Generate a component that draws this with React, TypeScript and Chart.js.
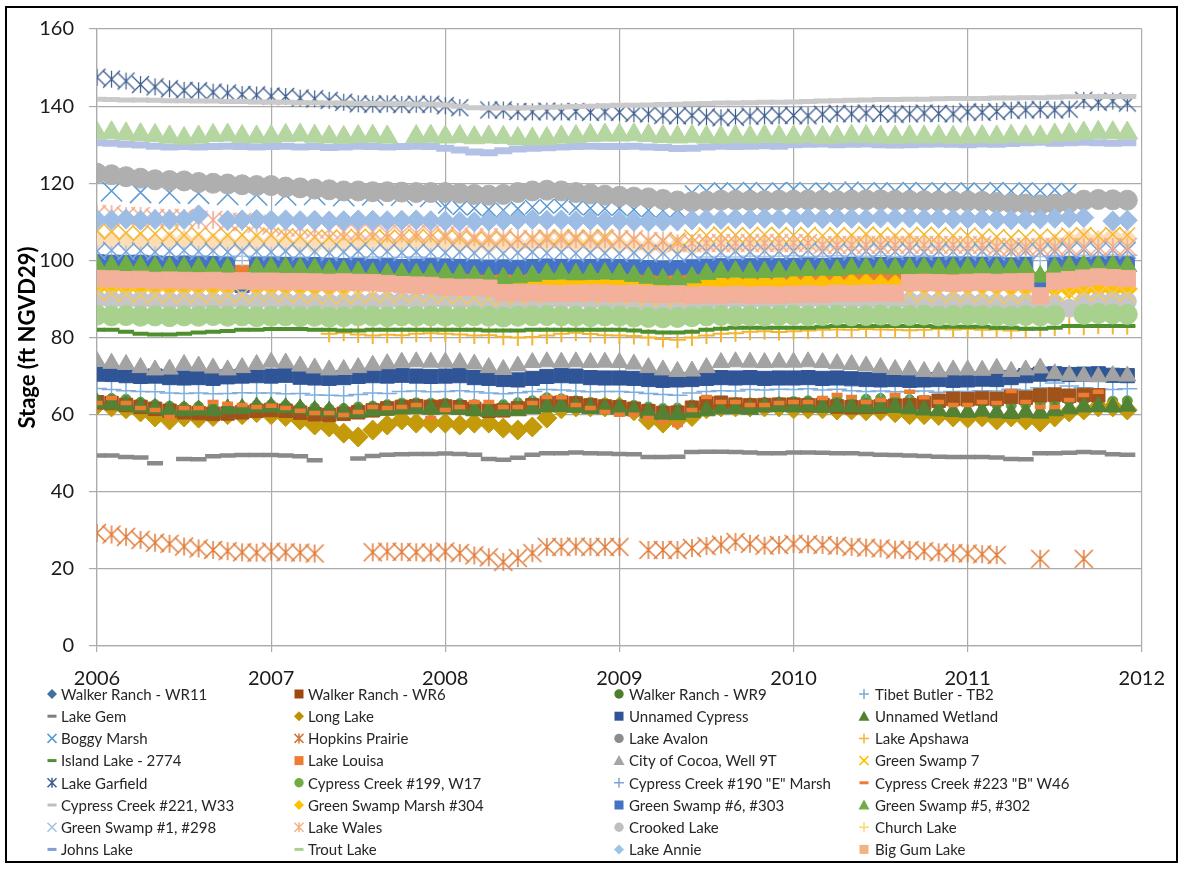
import React, { useEffect, useRef } from "react";
import { Chart, registerables } from "chart.js";

Chart.register(...registerables);

// ---------- axes ----------
const X_MIN = 2006;
const X_MAX = 2012;
const Y_MIN = 0;
const Y_MAX = 160;
const Y_STEP = 20;
const MONTHS_PER_YEAR = 12;
const Y_TITLE = "Stage (ft NGVD29)";

// ---------- series names (legend order, row-major, 4 columns) ----------
const SERIES_NAMES = [
  "Walker Ranch - WR11", "Walker Ranch - WR6", "Walker Ranch - WR9", "Tibet Butler - TB2",
  "Lake Gem", "Long Lake", "Unnamed Cypress", "Unnamed Wetland",
  "Boggy Marsh", "Hopkins Prairie", "Lake Avalon", "Lake Apshawa",
  "Island Lake - 2774", "Lake Louisa", "City of Cocoa, Well 9T", "Green Swamp 7",
  "Lake Garfield", "Cypress Creek #199, W17", "Cypress Creek #190 \"E\" Marsh", "Cypress Creek #223 \"B\" W46",
  "Cypress Creek #221, W33", "Green Swamp Marsh #304", "Green Swamp #6, #303", "Green Swamp #5, #302",
  "Green Swamp #1, #298", "Lake Wales", "Crooked Lake", "Church Lake",
  "Johns Lake", "Trout Lake", "Lake Annie", "Big Gum Lake",
];

// ---------- monthly stages, Jan 2006 .. Dec 2011 (one row per year) ----------
const WALKER_RANCH_WR11 = [
  105.5, 105.3, 105, 104.8, 104.6, 105, 105.2, 104.8, 104.5, 104.6, 104.2, 104.5,
  104.6, 104.5, 104.2, 104, 104.1, 104.3, 104.5, 104.6, 104.4, 104.5, 104.7, 104.5,
  104.6, 104.4, 104.1, 104, 104.2, 104.1, 104.3, 104.6, 104.5, 104.4, 104.2, 104.1,
  104, 103.9, 103.6, 103.5, 103.7, 103.6, 104, 104.2, 104.1, 104.3, 104.2, 104,
  104.1, 104.2, 104, 104.3, 104.5, 104.6, 104.4, 104.5, 104.6, 104.3, 104.1, 104.2,
  104, 104.2, 103.9, 103.6, 103.8, 104.1, 104.3, 105.1, 106, 105.2, 106.2, 105.6,
];
const WALKER_RANCH_WR6 = [
  63.2, 63, 62.5, 62, 61.5, 61, 60.6, 60.4, 60.2, 60.3, 60.6, 61,
  61.2, 61, 60.5, 60.1, 59.9, 60.2, 60.6, 61.1, 61.6, 62, 62.2, 62,
  62.1, 61.9, 61.5, 61, 61.1, 61.6, 62.4, 63, 63.1, 62.9, 62.4, 62.1,
  61.9, 61.5, 60.9, 60.4, 60.5, 61.8, 62.9, 63.1, 62.6, 62.4, 62.5, 62.6,
  62.6, 62.4, 62.5, 62.1, 61.9, 62, 62.1, 62.3, 62.4, 63, 63.6, 64.1,
  64, 64.2, 64.1, 64.6, 64.4, 65, 65.2, 64.9, 65.1, 65, null, null,
];
const WALKER_RANCH_WR9 = [
  63.8, 64.2, 64, 63.2, 62.6, 62.2, 62, 62.1, 62.2, 62, 62.1, 62.5,
  62.6, 62.4, 62, 61.8, 61.5, 61.6, 62, 62.2, 62.6, 63, 63.1, 63,
  63, 62.9, 62.6, 62.4, 62.6, 63.1, 63.6, 64.4, 64.1, 63.6, 63.2, 63,
  62.8, 62.4, 62, 61.6, 61.7, 62.5, 63, 63.2, 63.1, 63, 63.1, 63.2,
  63.4, 63.6, 63.5, 63.8, 63.6, 64, 64.2, 64.1, 63.9, 63.5, 63.1, 63,
  62.9, 63, 62.6, 62.4, 62.6, 63, 63.2, 63.5, 63.6, 63.4, 63.5, 63.6,
];
const TIBET_BUTLER_TB2 = [
  66.8, 66.5, 66.2, 66, 65.9, 65.6, 65.5, 65.6, 65.4, 65.5, 65.7, 65.6,
  65.6, 65.4, 65.5, 65.1, 65, 64.9, 65.2, 65.6, 65.5, 66, 66.1, 65.9,
  66, 66.2, 65.9, 65.6, 65.4, 65.7, 66, 66.5, 66.4, 66.1, 65.9, 66,
  66, 65.8, 65.5, 65.2, 65, 65.6, 66, 66.2, 66.1, 66.5, 66.4, 66.6,
  66.5, 66.7, 66.4, 66.6, 66.2, 66, 66.1, 65.9, 66, 66.1, 65.8, 66,
  66, 66.2, 66.1, 66.6, 66.4, 67, 68.2, 67.4, 67, 66.6, 66.5, 66.7,
];
const LAKE_GEM = [
  49.4, 49.4, 49, 48.9, 47.4, null, 48.5, 48.4, 49.2, 49.4, 49.5, 49.5,
  49.5, 49.4, 49.2, 48.2, null, null, 48.6, 49.3, 49.6, 49.7, 49.8, 49.8,
  49.9, 49.8, 49.6, 48.5, 48.3, 48.8, 49.6, 50, 50, 50.2, 50, 49.9,
  49.8, 49.7, 49, 49, 49.1, 50.3, 50.4, 50.4, 50.3, 50.2, 50, 50,
  50.2, 50.2, 50.1, 50, 50, 49.8, 49.6, 49.5, 49.4, 49.3, 49.1, 49,
  49, 49, 48.9, 48.5, 48.4, 50, 50, 50.1, 50.3, 50.2, 49.7, 49.6,
];
const LONG_LAKE = [
  62.5, 62, 61.5, 60.7, 59.4, 58.6, 59.4, 59.1, 59.5, 60, 60, 60.5,
  60, 59.5, 58.6, 57.3, 56.8, 55.2, 54.2, 56, 57.3, 58.6, 57.8, 57.8,
  57.8, 57.3, 57.8, 57.8, 56.5, 56, 56.8, 59.1, 61.5, 62, 62, 62,
  62, 61, 58.6, 57.8, 58.6, 59.5, 61.5, 62, 62, 62, 62, 62,
  61.5, 61.5, 61.5, 61.2, 61.2, 61, 61, 60.5, 60, 60, 59.8, 59.4,
  59.1, 59.4, 58.6, 59.4, 58.6, 58.1, 59.4, 60.7, 61.2, 62, 62, 61.2,
];
const UNNAMED_CYPRESS = [
  70.5, 70.4, 70.1, 69.9, 70, 69.6, 69.5, 69.6, 69.4, 69.8, 70, 70.1,
  70, 70.2, 69.7, 69.5, 69.4, 69.6, 69.9, 70.1, 70, 70.2, 70, 69.9,
  70, 70.1, 69.6, 69.4, 69.1, 69, 69.4, 69.9, 70.1, 70, 69.6, 69.5,
  69.5, 69.4, 69.1, 68.9, 69, 69.1, 69.4, 69.6, 69.5, 69.6, 69.4, 69.5,
  69.5, 69.6, 69.4, 69.5, 69.3, 69.1, 69, 69.1, 68.9, 69, 69.1, 68.9,
  69, 69.2, 69.1, 69.6, 70.1, 70.5, 70.6, 70.4, 70.5, 70.6, 70.2, 70.1,
];
const UNNAMED_WETLAND = [
  63, 62.8, 62.4, 62, 61.6, 61.1, 61, 61.2, 61, 61.5, 61.6, 62,
  62, 61.8, 61.5, 61.1, 60.9, 60.5, 60.6, 61, 61.2, 61.5, 61.6, 61.4,
  61.5, 61.4, 61, 60.9, 61.1, 61, 61.6, 62, 62.1, 61.9, 61.6, 61.5,
  61.5, 61, 60.5, 60.1, 60, 60.6, 61, 61.5, 61.6, 61.4, 62, 62.1,
  62, 62.2, 61.9, 62.1, 62, 61.8, 62, 61.9, 61.5, 61.2, 61, 60.8,
  60.6, 60.9, 60.5, 60.3, 60.6, 60.4, 61, 61.5, 62, 62.1, 62, 62.2,
];
const BOGGY_MARSH = [
  null, 118, null, 117.6, null, 117.5, null, 117.4, null, 117.1, null, 117,
  null, 117, null, 117.1, null, 116.8, null, 117, null, 116.9, null, 116.6,
  114, 113.6, 113.5, 113.2, 113, 113.4, 113.8, 114, 114.1, 113.6, 113.5, 113.4,
  113.5, 113.2, 113, 112.9, 113.1, 117.6, 118, 118.4, 118.1, 118.5, 118, 118.4,
  118.5, 118.1, 118.4, 118, 118.6, 118.1, 118.4, 118, 118.5, 118.1, 118.4, 118,
  118.4, 118, 118.5, 118, 118.4, 118.1, 118.3, 118, null, null, null, null,
];
const HOPKINS_PRAIRIE = [
  29.3, 28.9, 28.3, 27.5, 26.8, 26.5, 25.8, 25.3, 24.9, 24.6, 24.3, 24.2,
  24.5, 24.3, 24.2, 24, null, null, null, 24.3, 24.5, 24.4, 24.3, 24.2,
  24.5, 24.1, 23.5, 23, 21.8, 22.8, 24.1, 25.7, 25.7, 25.8, 25.7, 25.7,
  25.7, null, 24.9, 24.9, 24.9, 25.4, 25.9, 26.3, 27, 26.5, 26, 26.2,
  26.5, 26.4, 26.2, 26, 25.7, 25.5, 25.3, 25, 24.9, 24.6, 24.3, 24.1,
  24, 23.8, 23.6, null, null, 22.6, null, null, 22.6, null, null, null,
];
const LAKE_AVALON = [
  122.6, 122.2, 121.7, 121.3, 120.9, 120.7, 120.6, 120.2, 120, 119.8, 119.6, 119.4,
  119.4, 119, 118.8, 118.5, 118.3, 118, 118, 117.8, 117.8, 117.7, 117.6, 117.6,
  117.6, 117.4, 117.1, 116.9, 117.1, 117.6, 118, 118.2, 118, 117.6, 117.2, 116.9,
  116.6, 116.4, 116.2, 115.8, 115.4, 115.2, 115.4, 115.6, 115.6, 115.5, 115.5, 115.6,
  115.6, 115.7, 115.6, 115.5, 115.6, 115.7, 115.7, 115.6, 115.5, 115.5, 115.4, 115.4,
  115.4, 115.3, 115, 114.8, 114.6, 114.4, 114.6, 115, 115.6, 115.8, 115.7, 115.6,
];
const LAKE_APSHAWA = [
  null, null, null, null, null, null, null, null, null, null, null, null,
  null, null, null, null, 81, 81.2, 80.8, 80.5, 80.7, 80.6, 81, 81.1,
  81, 80.8, 80.5, 80.6, 80.2, 80, 80.1, 80.5, 81, 81.2, 80.9, 80.6,
  80.5, 80.4, 80, 79.6, 79.4, 80, 80.5, 81, 81.1, 81.5, 81.6, 81.4,
  81.6, 81.8, 82, 82.1, 82, 82.2, 82.1, 82, 81.9, 82, 82.2, 82.1,
  82.2, 82, 82.1, 81.8, 82, 82.4, 82.6, 83, 82.8, 83.1, 83, 82.9,
];
const ISLAND_LAKE_2774 = [
  82, 82, 81.5, 81, 80.8, 80.8, 81, 81.3, 81.5, 81.7, 82, 82,
  82.2, 82.2, 82.2, 82, 82, 81.8, 81.8, 82, 82, 82, 82, 82,
  82, 82, 82, 81.8, 81.8, 81.8, 82, 82, 82, 82, 82, 82,
  82, 81.8, 81.5, 81.3, 81.3, 81.5, 82, 82.3, 82.5, 82.5, 82.5, 82.5,
  82.5, 82.5, 82.8, 83, 83, 83, 83, 83, 83, 83, 82.8, 82.8,
  82.8, 82.8, 82.5, 82.5, 82.3, 82.3, 82.5, 83, 83, 83, 83, 83,
];
const LAKE_LOUISA = [
  97.5, 97.4, 97.5, 97.3, 97.2, 97.3, 97.1, 97, 97.1, 97, 96.9, 96.8,
  96.8, 96.9, 96.7, 96.6, 96.5, 96.6, 96.4, 96.5, 96.3, 96.2, 96.2, 96,
  95, 94.8, 94.9, 94.6, 94.5, 94.5, 94.6, 94.4, 94.5, 94.6, 94.4, 94.5,
  94.4, 94.5, 94.6, 94.5, 94.4, 94.5, 94.7, 94.6, 94.5, 94.6, 94.8, 94.9,
  95, 95.1, 95, 95.2, 95, 94.9, 95, 95.1, 95.2, 95, 94.9, 95,
  95, 95.1, 95, 94.9, 95, 95.1, 95.2, 95, 95.1, 95, 95.2, 95.1,
];
const CITY_OF_COCOA_9T = [
  73.8, 73.3, 73, 72.2, 71.6, 71.8, 73, 72.6, 72.1, 71.6, 72.2, 73,
  73.6, 73.4, 72.6, 72.1, 71.6, 71.7, 72.2, 72.8, 73.2, 73.6, 73.7, 73.6,
  73.6, 73.5, 73.1, 72.2, 71.7, 72.6, 73.5, 73.7, 73.6, 73.7, 73.5, 73.6,
  73.5, 73.1, 72.2, 71.6, 71.2, 71.3, 72.2, 73.5, 73.7, 73.6, 73.5, 73.6,
  73.6, 73.7, 73.5, 73.2, 73, 72.6, 72.2, 71.7, 71.6, 71.2, 71.1, 71.6,
  71.6, 71.5, 72, 71.2, 71.6, 72.1, 70.6, 70.2, 70, 69.8, 70.1, 70,
];
const GREEN_SWAMP_7 = [
  107.6, 107.4, 107.1, 107, 106.9, 106.6, 106.5, 106.7, 106.4, 106.5, 106.6, 106.4,
  106.5, 106.3, 106.1, 106, 105.9, 106, 106.2, 106.1, 105.9, 106, 106.1, 106,
  106, 105.8, 105.5, 105.4, 105.6, 105.5, 105.7, 106, 106.1, 105.9, 106, 106.1,
  105.6, 105.4, 105.1, 105, 105.2, 106, 106.5, 106.8, 106.6, 106.5, 106.7, 106.6,
  106.5, 106.7, 106.4, 106.6, 106.5, 106.8, 106.6, 106.4, 106.5, 106.7, 106.6, 106.4,
  106.5, 106.3, 106.1, 105.9, 106, 106.2, 106.1, 106.5, 106.6, 106.4, 106.7, 106.5,
];
const LAKE_GARFIELD = [
  147.5, 147, 146.5, 145.6, 145, 144.5, 144.1, 144, 143.6, 143.4, 143, 142.9,
  142.6, 142.5, 142.1, 141.9, 141.5, 141, 140.6, 140.5, 140.6, 140.4, 140.5, 140.5,
  140.1, 139.6, null, 139, 139, 138.6, 138.5, 138.7, 138.5, 138.6, 138.4, 138.5,
  138.4, 138.1, 138, 137.6, 137.5, 137.6, 137.2, 137, 137.1, 137.4, 137.5, 137.6,
  137.6, 137.5, 137.9, 138.1, 138, 138.2, 138.1, 137.9, 138, 138.2, 138.1, 138,
  138.5, 138.4, 138.6, 138.9, 139, 139.1, 139, 139.2, 141.5, 141, 141.3, 140.8,
];
const CYPRESS_CREEK_199 = [
  85.8, 85.6, 85.7, 85.5, 85.6, 85.4, 85.6, 85.5, 85.7, 85.5, 85.6, 85.4,
  85.5, 85.6, 85.4, 85.5, 85.3, 85.4, 85.6, 85.5, 85.4, 85.6, 85.5, 85.6,
  85.5, 85.4, 85.6, 85.5, 85.3, 85.5, 85.6, 85.7, 85.6, 85.5, 85.4, 85.6,
  85.5, 85.3, 85.2, 85.1, 85.2, 85.4, 85.6, 85.7, 85.5, 85.6, 85.5, 85.7,
  85.8, 85.6, 85.7, 85.8, 85.6, 85.7, 85.8, 85.6, 85.7, 85.8, 85.6, 85.7,
  85.8, 85.7, 85.6, 85.5, 85.7, 85.6, 85.8, null, 86, 86.2, 86.1, 86,
];
const CYPRESS_CREEK_190 = [
  101.4, 101.2, 101.3, 101, 101.1, 100.9, 101, 101.2, 100.8, 101, 101.1, 100.9,
  101, 100.8, 100.9, 100.6, 100.7, 100.5, 100.8, 100.9, 100.7, 100.8, 100.9, 100.7,
  100.4, 100.2, 100, 100.1, 99.8, 99.9, 100.1, 100.3, 100.2, 100, 99.9, 100,
  99.9, 99.7, 99.6, 99.5, 99.7, 100.2, 100.9, 101, 100.9, 101.1, 101, 101.1,
  101.2, 101, 101.1, 101.2, 101, 101.1, 101.2, 101, 101.1, 101.2, 100.9, 101,
  100.9, 101, 100.8, 100.7, 100.9, 101, 101.2, 101.1, 101.3, 101.2, 101.4, 101.3,
];
const CYPRESS_CREEK_223 = [
  63, 64.3, 63, 61.7, 61.2, 59.4, 61.7, 61.7, 63.3, 62.8, 62.5, 62,
  62.3, 61.7, 61, 60.4, 60.4, 59.9, 60.7, 62, 61.7, 62, 62.5, 59.1,
  61.2, 62, 63.3, 63.3, 62, 62, 63, 64.6, 64.5, 62.5, 61.7, 60.7,
  60, 60, 59.1, 58.1, 57.3, 61.2, 64.6, 63.3, 63.3, 62.5, 62.5, 63,
  63.3, 63.3, 64.3, 65.1, 64.6, 63.3, 63.8, 65.1, 65.9, 64.5, 63.3, 62.5,
  62.5, 63.3, 63, 66.1, 63.3, 62, 62, 63.8, 65.1, 65.9, null, null,
];
const CYPRESS_CREEK_221 = [
  141.8, 141.7, 141.6, 141.6, 141.5, 141.4, 141.4, 141.3, 141.3, 141.2, 141.2, 141.1,
  141, 141, 140.9, 140.9, 140.8, 140.8, 140.7, 140.7, 140.6, 140.6, 140.5, 140.5,
  140.3, 140, 139.6, 139.5, 139.5, 139.5, 139.6, 139.7, 139.8, 139.9, 140, 140.1,
  140.2, 140.2, 140.3, 140.4, 140.5, 140.6, 140.7, 140.8, 140.8, 140.9, 141, 141,
  141.1, 141.2, 141.3, 141.4, 141.5, 141.6, 141.7, 141.7, 141.8, 141.8, 141.9, 142,
  142, 142, 142.1, 142.1, 142.2, 142.2, 142.3, 142.4, 142.5, 142.5, 142.5, 142.5,
];
const GREEN_SWAMP_MARSH_304 = [
  93, 93.1, 93, 92.9, 93, 93.1, 93, 93.2, 93.1, 93, 93.2, 93.1,
  93.2, 93.3, 93.1, 93.2, 93.4, 93.6, 94, 94.3, 94.5, 94.4, 94.6, 94.5,
  94.6, 94.5, 94.4, 94.3, 94.1, 94, 94.1, 93.9, 94, 94.1, 94, 93.9,
  94, 93.9, 93.8, 93.6, 93.5, 93.9, 94.1, 94, 94.2, 94.1, 94, 94.1,
  94, 94.1, 93.9, 94, 94.1, 94, 93.8, 93.7, 93.6, 93.5, 93.6, 93.5,
  93.4, 93.5, 93.3, 93.1, 93, 93.2, 92.9, 92.6, 92.5, 92.7, 92.5, 92.6,
];
const GREEN_SWAMP_6_303 = [
  99.6, 99.5, 99.4, 99.5, 99.3, 99.2, 99.3, 99.1, 99.2, 99, 93.5, 99,
  99, 98.9, 98.8, 98.9, 98.7, 98.6, 98.7, 98.5, 98.6, 98.4, 98.5, 98.6,
  98.5, 98.4, 98.3, 98.2, 98.3, 98.2, 98.4, 98.5, 98.4, 98.3, 98.4, 98.5,
  98.4, 98.3, 98.1, 98, 98.1, 98.3, 98.5, 98.6, 98.5, 98.6, 98.7, 98.6,
  98.7, 98.8, 98.7, 98.8, 98.9, 98.8, 98.9, 98.8, 98.9, 99, 98.9, 99,
  99, 98.9, 99, 98.8, 98.9, 93.5, 99, 99.1, 99, 99.1, 99.2, 99.1,
];
const GREEN_SWAMP_5_302 = [
  98.6, 98.5, 98.6, 98.4, 98.2, 98.1, 98.2, 98, 98.1, 97.9, 94, 98,
  98, 98.1, 97.9, 97.8, 97.4, 97.3, 97, 96.6, 96.5, 96.6, 96.4, 96.5,
  96.5, 96.3, 95.9, 95.5, 95.4, 95.6, 96, 96.5, 96.6, 96.4, 96.5, 96.6,
  96.5, 96, 95.5, 95.1, 95, 95.6, 96.5, 97, 97.1, 96.9, 97, 97.1,
  97.4, 97.5, 97.6, 97.5, 97.9, 98, 98.1, 97.9, 98, 98.1, 97.9, 98,
  98, 98.1, 97.9, 98, 98, 95.8, 98, 98.4, 98.6, 98.5, 98.6, 98.5,
];
const GREEN_SWAMP_1_298 = [
  102.4, 102.6, 102.3, 102.5, 102.2, 102.4, 102.6, 102.3, 102.5, 102.2, 102.4, 102.3,
  102.2, 102.4, 102.1, 102.3, 102, 102.2, 102.4, 102.1, 102.3, 102, 102.2, 102.1,
  102, 102.2, 101.9, 102.1, 101.8, 102, 102.2, 101.9, 102.1, 101.8, 102, 101.9,
  101.8, 102, 101.7, 101.9, 101.6, 102, 102.3, 102.1, 102.4, 102.2, 102.5, 102.3,
  102.4, 102.6, 102.3, 102.5, 102.2, 102.4, 102.6, 102.3, 102.5, 102.2, 102.4, 102.3,
  102.2, 102.4, 102.1, 102.3, 102.5, 102.2, 102.4, 102.6, 102.8, 102.5, 102.7, 102.6,
];
const LAKE_WALES = [
  112, 112, 111.5, 111.5, 111, 111, 111, 110.5, 110.5, 110, 110, 109.5,
  109, 108.5, 108.5, 108, 108, 107.5, 107.5, 107.5, 107, 107, 107, 107,
  106.5, 106.5, 106, 106, 106, 105.5, 105.5, 105.5, 105.5, 105.5, 105.5, 105.5,
  105.5, 105.5, 105, 105, 104.5, 104.5, 104.5, 104.5, 104.5, 104.5, 104.5, 104.5,
  104.5, 104.5, 104, 104, 104, 104, 104, 104, 104, 104, 104, 104,
  104, 104, 103.5, 103.5, 103.5, 103.5, 103.5, 103.5, 103.5, 103.5, 103.5, 103.5,
];
const CROOKED_LAKE = [
  89.8, 89.7, 89.6, 89.6, 89.5, 89.4, 89.5, 89.4, 89.3, 89.4, 89.5, 89.4,
  89.4, 89.3, 89.2, 89.1, 89, 89.1, 89.2, 89.3, 89.4, 89.5, 89.4, 89.5,
  89.5, 89.4, 89.2, 89, 88.9, 89, 89.2, 89.4, 89.6, 89.5, 89.4, 89.3,
  89.2, 89, 88.8, 88.6, 88.7, 89, 89.3, 89.5, 89.6, 89.5, 89.5, 89.6,
  89.6, 89.7, 89.6, 89.5, 89.6, 89.5, 89.4, 89.5, 89.4, 89.3, 89.2, 89.3,
  89.2, 89.1, 89, 88.9, 89, 89.1, 88.8, 87.6, 89.2, 89.4, 89.5, 89.4,
];
const CHURCH_LAKE = [
  91.5, 91.4, 91.2, 91, 90.9, 90.8, 90.9, 91, 90.8, 90.9, 91, 91.1,
  91.2, 91, 90.8, 90.7, 90.5, 90.6, 90.8, 90.9, 91, 91.1, 91, 90.9,
  90.8, 90.6, 90.4, 90.2, 90.3, 90.5, 90.8, 91, 91.1, 91, 90.9, 90.8,
  90.7, 90.5, 90.2, 90, 90.1, 90.6, 91, 91.2, 91.1, 91.2, 91.1, 91.2,
  91.2, 91.3, 91.2, 91.4, 91.3, 91.2, 91.3, 91.1, 91.2, 91, 91.1, 91,
  91.1, 91, 90.8, 90.7, 90.9, 91, 91.2, 91.4, 91.5, 91.3, 91.4, 91.2,
];
const JOHNS_LAKE = [
  130.5, 130.4, 130.1, 129.9, 129.6, 129.4, 129.5, 129.4, 129.5, 129.6, 129.5, 129.4,
  129.5, 129.6, 129.4, 129.5, 129.3, 129.4, 129.6, 129.5, 129.4, 129.5, 129.6, 129.5,
  129.1, 128.6, 128.1, 127.9, 128.4, 128.9, 129.1, 129.2, 129.4, 129.5, 129.6, 129.5,
  129.5, 129.6, 129.4, 129.3, 129, 129.1, 129.4, 129.6, 129.5, 129.6, 129.7, 129.6,
  130, 130.1, 130.2, 130, 130.1, 130.2, 130, 129.9, 130, 130.1, 130.2, 130.1,
  130, 130.2, 130.1, 130.3, 130.5, 130.6, 130.4, 130.5, 130.6, 130.5, 130.4, 130.5,
];
const TROUT_LAKE = [
  133, 133.1, 132.8, 132.6, 132.4, 132, 131.6, 132, 132.4, 132.5, 132.1, 132,
  132.1, 132.4, 132.5, 132.2, 132, 131.9, 132.1, 132.2, 132, null, 132.1, 132.2,
  132, 132.1, 131.8, 132, 131.9, 131.6, 131.5, 131.6, 132, 132.1, 132.4, 132.5,
  132.5, 132.6, 132.4, 132.1, 132, 132.2, 132, 131.9, 132.1, 132, 132.2, 132.1,
  132, 132.1, 131.9, 132, 132.2, 132.1, 132, 131.9, 132.1, 132, 132.1, 131.9,
  132, 132.1, 132, 132.2, 132.1, 132, 132.5, 132.6, 133, 133.2, 133.1, 133,
];
const LAKE_ANNIE = [
  110.6, 110.5, 110.7, 110.4, 110.6, 110.5, 110.6, 111.8, null, 110.4, 110.5, 110.6,
  110.4, 110.5, 110.3, 110.4, 110.2, 110.3, 110.5, 110.4, 110.3, 110.4, 110.5, 110.3,
  110.2, 110.1, 110, 110.2, 110.3, 110.5, 110.6, 110.4, 110.5, 110.3, 110.4, 110.2,
  110.3, 110.1, 110, 110.1, 110.2, 110.5, 110.7, 110.6, 110.8, 110.7, 110.9, 110.8,
  110.9, 111, 110.8, 111, 110.9, 110.8, 111, 110.9, 111, 110.8, 110.9, 110.7,
  110.8, 110.7, 110.6, 110.5, 110.6, 110.7, 110.9, 111, 111.1, null, 110.2, 110.4,
];
const BIG_GUM_LAKE = [
  95.3, 95.2, 95, 95.1, 94.8, 94.9, 94.8, 94.7, 94.8, 94.6, 94.7, 94.6,
  94.6, 94.5, 94.5, 94.4, 94.3, 94.4, 94.3, 94.2, 94, 93.7, 93.6, 93.5,
  93.1, 93, 93, 92.8, 91.6, 91.6, 91.6, 91.5, 91.4, 91.5, 91.6, 91.5,
  91.4, 91.5, 91.3, 91.2, 91.3, 91, 91.1, 91, 91.2, 91, 91.1, 91,
  91.2, 91.3, 91.2, 91.5, 91.4, 91.5, 91.6, 91.5, 94.2, 94.3, 94.2, 94.1,
  94.3, 94.4, 94.3, 94.4, 94.5, 90.8, 94.6, 95, 95.4, 95.7, 95.5, 95.3,
];

const SERIES_VALUES = [
  WALKER_RANCH_WR11, WALKER_RANCH_WR6, WALKER_RANCH_WR9, TIBET_BUTLER_TB2,
  LAKE_GEM, LONG_LAKE, UNNAMED_CYPRESS, UNNAMED_WETLAND,
  BOGGY_MARSH, HOPKINS_PRAIRIE, LAKE_AVALON, LAKE_APSHAWA,
  ISLAND_LAKE_2774, LAKE_LOUISA, CITY_OF_COCOA_9T, GREEN_SWAMP_7,
  LAKE_GARFIELD, CYPRESS_CREEK_199, CYPRESS_CREEK_190, CYPRESS_CREEK_223,
  CYPRESS_CREEK_221, GREEN_SWAMP_MARSH_304, GREEN_SWAMP_6_303, GREEN_SWAMP_5_302,
  GREEN_SWAMP_1_298, LAKE_WALES, CROOKED_LAKE, CHURCH_LAKE,
  JOHNS_LAKE, TROUT_LAKE, LAKE_ANNIE, BIG_GUM_LAKE,
];

// ---------- styles (plot markers) ----------
// shape: diamond | square | circle | triangle | x | plus | star | dash
const PLOT_STYLES = [
  { shape: "diamond", color: "#FCDDB6", r: 10 },
  { shape: "square", color: "#A0521B", r: 9.5, z: 6.5 },
  { shape: "circle", color: "#5E9E3F", r: 5, z: -1 },
  { shape: "plus", color: "#7DAEDC", r: 10, bw: 1.5 },
  { shape: "dash", color: "#8A8A8A", r: 8, bw: 4.5 },
  { shape: "diamond", color: "#C49A0A", r: 10 },
  { shape: "square", color: "#2F5597", r: 10 },
  { shape: "triangle", color: "#548235", r: 10 },
  { shape: "x", color: "#5B9BD5", r: 10, rEarly: 15, bw: 1.5 },
  { shape: "star", color: "#E07B39", r: 18, bw: 1.5 },
  { shape: "circle", color: "#AFAFAF", r: 10 },
  { shape: "plus", color: "#F2B531", r: 8.5, bw: 2 },
  { shape: "dash", color: "#4E8F2E", r: 8, bw: 4 },
  { shape: "square", color: "#ED7D31", r: 10 },
  { shape: "triangle", color: "#A3A3A3", r: 10 },
  { shape: "x", color: "#F5B82E", r: 11, bw: 1.5 },
  { shape: "star", color: "#3A5A8C", r: 17, bw: 1.2 },
  { shape: "circle", color: "#A9D18E", r: 10, z: 40 },
  { shape: "plus", color: "#A7C8E8", r: 10, bw: 1.5 },
  { shape: "dash", color: "#ED7D31", r: 5.5, bw: 4.5 },
  { shape: "dash", color: "#CACACA", r: 9, bw: 5 },
  { shape: "diamond", color: "#FFC000", r: 10 },
  { shape: "square", color: "#4472C4", r: 10 },
  { shape: "triangle", color: "#70AD47", r: 11 },
  { shape: "x", color: "#7BA5DA", r: 12, bw: 1.5 },
  { shape: "star", color: "#F1A888", r: 18, bw: 1.5 },
  { shape: "circle", color: "#C6C6C6", r: 9 },
  { shape: "x", color: "#F7C75A", r: 11, bw: 1.5 },
  { shape: "dash", color: "#B4C1E6", r: 9, bw: 7 },
  { shape: "triangle", color: "#B5D6A0", r: 12 },
  { shape: "diamond", color: "#9DBDE5", r: 10 },
  { shape: "square", color: "#F3B09A", r: 11.5 },
];

// ---------- styles (legend icons) ----------
const LEGEND_STYLES = [
  { shape: "diamond", color: "#41719C" }, { shape: "square", color: "#9E480E" },
  { shape: "circle", color: "#4C7F2C" }, { shape: "plus", color: "#7FA9D5" },
  { shape: "dash", color: "#7F7F7F" }, { shape: "diamond", color: "#BF9000" },
  { shape: "square", color: "#2F5597" }, { shape: "triangle", color: "#548235" },
  { shape: "x", color: "#5B9BD5" }, { shape: "star", color: "#D2773C" },
  { shape: "circle", color: "#8C8C8C" }, { shape: "plus", color: "#F2B531" },
  { shape: "dash", color: "#4E8F2E" }, { shape: "square", color: "#ED7D31" },
  { shape: "triangle", color: "#A5A5A5" }, { shape: "x", color: "#FFC000" },
  { shape: "star", color: "#3E5F93" }, { shape: "circle", color: "#70AD47" },
  { shape: "plus", color: "#7DA7D9" }, { shape: "dash", color: "#ED7D31" },
  { shape: "dash", color: "#BFBFBF" }, { shape: "diamond", color: "#FFC000" },
  { shape: "square", color: "#4472C4" }, { shape: "triangle", color: "#70AD47" },
  { shape: "x", color: "#9DC3E6" }, { shape: "star", color: "#F4B183" },
  { shape: "circle", color: "#BFBFBF" }, { shape: "plus", color: "#FFD966" },
  { shape: "dash", color: "#7F9FD6" }, { shape: "dash", color: "#A9D18E" },
  { shape: "diamond", color: "#9DC3E6" }, { shape: "square", color: "#F4B183" },
];

const FONT = "Lato, 'Open Sans', sans-serif";
const LEGEND_COL_MARKER_X = [52, 299, 619, 864];
const LEGEND_COL_TEXT_X = [61, 308, 629, 875];
const LEGEND_ROW0_Y = 694;
const LEGEND_ROW_STEP = 22.2;

function makeStar(color: string, size: number, lw: number) {
  const pad = 2;
  const c = document.createElement("canvas");
  c.width = size + pad * 2;
  c.height = size + pad * 2;
  const g = c.getContext("2d")!;
  const h = size / 2;
  const cx = c.width / 2;
  const cy = c.height / 2;
  g.strokeStyle = color;
  g.lineWidth = lw;
  g.beginPath();
  g.moveTo(cx - h, cy - h); g.lineTo(cx + h, cy + h);
  g.moveTo(cx + h, cy - h); g.lineTo(cx - h, cy + h);
  g.moveTo(cx, cy - h); g.lineTo(cx, cy + h);
  g.stroke();
  return c;
}

const CHART_STYLE: Record<string, string> = {
  diamond: "rectRot", square: "rect", circle: "circle", triangle: "triangle",
  x: "crossRot", plus: "cross", dash: "line",
};

function drawLegendIcon(ctx: CanvasRenderingContext2D, shape: string, color: string, x: number, y: number) {
  ctx.save();
  ctx.fillStyle = color;
  ctx.strokeStyle = color;
  ctx.lineWidth = 1.5;
  ctx.beginPath();
  if (shape === "diamond") {
    ctx.moveTo(x, y - 5); ctx.lineTo(x + 5, y); ctx.lineTo(x, y + 5); ctx.lineTo(x - 5, y); ctx.closePath(); ctx.fill();
  } else if (shape === "square") {
    ctx.fillRect(x - 4.5, y - 4.5, 9, 9);
  } else if (shape === "circle") {
    ctx.arc(x, y, 4.7, 0, Math.PI * 2); ctx.fill();
  } else if (shape === "triangle") {
    ctx.moveTo(x, y - 5.5); ctx.lineTo(x + 5.5, y + 4.5); ctx.lineTo(x - 5.5, y + 4.5); ctx.closePath(); ctx.fill();
  } else if (shape === "x") {
    ctx.moveTo(x - 4.5, y - 4.5); ctx.lineTo(x + 4.5, y + 4.5);
    ctx.moveTo(x + 4.5, y - 4.5); ctx.lineTo(x - 4.5, y + 4.5); ctx.stroke();
  } else if (shape === "plus") {
    ctx.moveTo(x - 5, y); ctx.lineTo(x + 5, y);
    ctx.moveTo(x, y - 5); ctx.lineTo(x, y + 5); ctx.stroke();
  } else if (shape === "star") {
    ctx.moveTo(x - 4.5, y - 4.5); ctx.lineTo(x + 4.5, y + 4.5);
    ctx.moveTo(x + 4.5, y - 4.5); ctx.lineTo(x - 4.5, y + 4.5);
    ctx.moveTo(x, y - 5); ctx.lineTo(x, y + 5); ctx.stroke();
  } else if (shape === "dash") {
    ctx.fillRect(x - 4.5, y - 1.5, 9, 3);
  }
  ctx.restore();
}

const framePlugin = {
  id: "frame",
  beforeDraw(chart: any) {
    const { ctx, width, height } = chart;
    ctx.save();
    ctx.fillStyle = "#ffffff";
    ctx.fillRect(0, 0, width, height);
    ctx.restore();
  },
  afterDraw(chart: any) {
    const ctx = chart.ctx as CanvasRenderingContext2D;
    const area = chart.chartArea;
    // y-axis title
    ctx.save();
    ctx.translate(28, (area.top + area.bottom) / 2);
    ctx.rotate(-Math.PI / 2);
    ctx.font = `bold 22px ${FONT}`;
    ctx.fillStyle = "#000000";
    ctx.textAlign = "center";
    ctx.textBaseline = "middle";
    ctx.fillText(Y_TITLE, 0, 0);
    ctx.restore();
    // legend (4 columns, row-major)
    ctx.save();
    ctx.font = `15px ${FONT}`;
    ctx.textAlign = "left";
    ctx.textBaseline = "middle";
    SERIES_NAMES.forEach((name, k) => {
      const col = k % 4;
      const row = Math.floor(k / 4);
      const y = LEGEND_ROW0_Y + row * LEGEND_ROW_STEP;
      const st = LEGEND_STYLES[k];
      drawLegendIcon(ctx, st.shape, st.color, LEGEND_COL_MARKER_X[col], y);
      ctx.fillStyle = "#262626";
      ctx.fillText(name, LEGEND_COL_TEXT_X[col], y + 1);
    });
    ctx.restore();
    // outer frame
    ctx.save();
    ctx.strokeStyle = "#000000";
    ctx.lineWidth = 2;
    ctx.strokeRect(6, 7, 1171, 855);
    ctx.restore();
  },
};

export default function App() {
  const canvasRef = useRef<HTMLCanvasElement | null>(null);

  useEffect(() => {
    document.body.style.margin = "0";
    const canvas = canvasRef.current;
    if (!canvas) return;
    Chart.defaults.font.family = FONT;

    const datasets = SERIES_VALUES.map((values, k) => {
      const st: any = PLOT_STYLES[k];
      const points: { x: number; y: number }[] = [];
      values.forEach((v, i) => {
        if (v !== null && v !== undefined) points.push({ x: X_MIN + i / MONTHS_PER_YEAR, y: v as number });
      });
      const isStar = st.shape === "star";
      const pointStyle = isStar ? makeStar(st.color, st.r, st.bw || 1.5) : CHART_STYLE[st.shape];
      const lineLike = st.shape === "x" || st.shape === "plus" || st.shape === "dash" || isStar;
      const z = st.z !== undefined ? st.z : k;
      return {
        label: SERIES_NAMES[k],
        data: points,
        showLine: false,
        pointStyle,
        pointRadius: st.rEarly
          ? (c: any) => (c.raw && c.raw.x < X_MIN + 2 ? st.rEarly : st.r)
          : isStar ? 9 : st.r,
        pointHoverRadius: isStar ? 9 : st.r,
        pointBackgroundColor: st.color,
        pointBorderColor: st.color,
        pointBorderWidth: lineLike ? st.bw || 1.5 : 1,
        order: 100 - z,
      };
    });

    const chart = new Chart(canvas, {
      type: "scatter",
      data: { datasets },
      options: {
        responsive: false,
        animation: false,
        devicePixelRatio: 1,
        layout: { padding: { left: 0, right: 26, top: 29, bottom: 0 } },
        plugins: { legend: { display: false }, tooltip: { enabled: false } },
        scales: {
          x: {
            type: "linear",
            min: X_MIN,
            max: X_MAX,
            ticks: {
              stepSize: 1,
              maxRotation: 0,
              callback: (v: any) => String(v),
              font: { size: 20, family: FONT },
              color: "#1a1a1a",
              padding: 15,
            },
            grid: { color: "#ABABAB", lineWidth: 1.2, tickLength: 6 },
            border: { color: "#ABABAB", width: 1.2 },
            afterFit: (s: any) => { s.height = 223; },
          },
          y: {
            min: Y_MIN,
            max: Y_MAX,
            ticks: {
              stepSize: Y_STEP,
              font: { size: 20, family: FONT },
              color: "#1a1a1a",
              padding: 15,
            },
            grid: { color: "#ABABAB", lineWidth: 1.2, tickLength: 8 },
            border: { color: "#ABABAB", width: 1.2 },
            afterFit: (s: any) => { s.width = 97; },
          },
        },
      },
      plugins: [framePlugin],
    } as any);

    return () => chart.destroy();
  }, []);

  return (
    <div style={{ width: 1180, height: 869, background: "#fff" }}>
      <canvas ref={canvasRef} width={1180} height={869} style={{ display: "block" }} />
    </div>
  );
}
